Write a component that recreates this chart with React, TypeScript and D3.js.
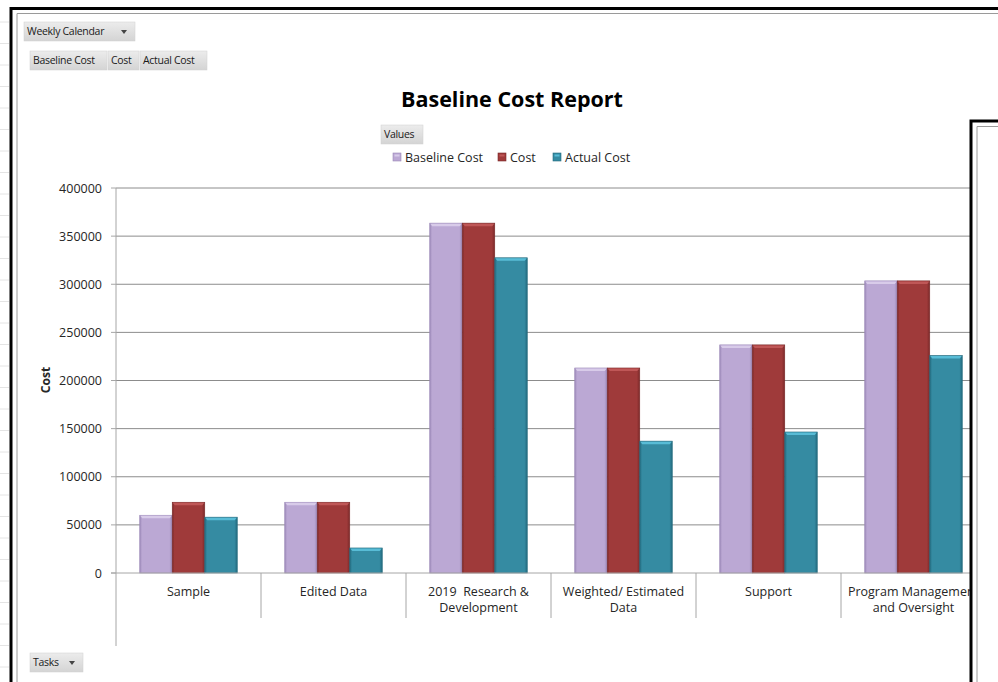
import * as d3 from 'd3'

const categories = ['Sample', 'Edited Data', '2019  Research & Development', 'Weighted/ Estimated Data', 'Support', 'Program Management and Oversight']
const categoryLines = [
  ['Sample'],
  ['Edited Data'],
  ['2019  Research &', 'Development'],
  ['Weighted/ Estimated', 'Data'],
  ['Support'],
  ['Program Management', 'and Oversight'],
]
const seriesNames = ['Baseline Cost', 'Cost', 'Actual Cost']
const baselineCost = [60000, 73500, 363500, 213000, 237000, 303500]
const cost = [73500, 73500, 363500, 213000, 237000, 303500]
const actualCost = [58000, 26000, 327500, 137000, 146500, 226000]
const yTicks = [0, 50000, 100000, 150000, 200000, 250000, 300000, 350000, 400000]

const W = 998
const H = 682
const PLOT = { left: 116, right: 986, top: 188, bottom: 573 }
const FONT = "'Open Sans', 'DejaVu Sans', sans-serif"
const TEXT = '#262626'
const GRID = '#8c8c8c'
const AXIS = '#a6a6a6'

const COLORS = [
  { main: '#bba8d4', light: '#d8cbe9', dark: '#9a87b6' },
  { main: '#9f3a3a', light: '#bf5757', dark: '#7a2929' },
  { main: '#358ba2', light: '#58bcd6', dark: '#236a7e' },
]

function Button({ x, y, w, label, arrow }: { x: number; y: number; w: number; label: string; arrow?: boolean }) {
  return (
    <g>
      <rect x={x} y={y} width={w} height={19} fill="url(#btn-grad)" stroke="#d0d0d0" strokeWidth={0.5} />
      <text x={x + 3} y={y + 13} fontSize={10.5} fontFamily={FONT} fill="#1a1a1a" letterSpacing={-0.3}>{label}</text>
      {arrow && <path d={`M${x + w - 14},${y + 8} l6,0 l-3,4 z`} fill="#444" />}
    </g>
  )
}

function rowY(i: number) {
  return 22 + i * 21.5
}

export default function App() {
  const x = d3.scaleBand<string>().domain(categories).range([PLOT.left, PLOT.right]).paddingInner(0).paddingOuter(0)
  const xs = d3.scaleBand<string>().domain(seriesNames).range([0, x.bandwidth()]).paddingInner(0).paddingOuter(0.73)
  const y = d3.scaleLinear().domain([0, 400000]).range([PLOT.bottom, PLOT.top])
  const values = [baselineCost, cost, actualCost]

  return (
    <svg width={W} height={H} style={{ position: 'fixed', left: 0, top: 0, background: '#fff' }}>
      <defs>
        <linearGradient id="btn-grad" x1="0" x2="0" y1="0" y2="1">
          <stop offset="0%" stopColor="#ececec" />
          <stop offset="100%" stopColor="#d4d4d4" />
        </linearGradient>
        {COLORS.map((c, i) => (
          <linearGradient key={i} id={`bar-grad-${i}`} x1="0" x2="1" y1="0" y2="0">
            <stop offset="0%" stopColor={c.dark} />
            <stop offset="7%" stopColor={c.main} />
            <stop offset="91%" stopColor={c.main} />
            <stop offset="100%" stopColor={c.dark} />
          </linearGradient>
        ))}
      </defs>

      {/* faint spreadsheet grid at far left */}
      {d3.range(0, 34).map((i) => (
        <line key={i} x1={0} x2={9} y1={rowY(i)} y2={rowY(i)} stroke="#e4e4e4" />
      ))}

      {/* outer frame */}
      <path d={`M11,${H + 5} L11,8.5 L${W + 5},8.5`} fill="none" stroke="#000" strokeWidth={3} />
      <path d={`M17,${H + 5} L17,13.5 L${W + 5},13.5`} fill="none" stroke="#9a9a9a" strokeWidth={1} />

      {/* field buttons */}
      <Button x={24} y={22} w={111} label="Weekly Calendar" arrow />
      <Button x={30} y={51} w={77} label="Baseline Cost" />
      <Button x={108} y={51} w={31} label="Cost" />
      <Button x={140} y={51} w={67} label="Actual Cost" />
      <Button x={30} y={653} w={53} label="Tasks" arrow />

      {/* title */}
      <text x={512} y={107} textAnchor="middle" fontSize={21.5} fontWeight="bold" fontFamily={FONT} fill="#000">
        Baseline Cost Report
      </text>
      <Button x={381} y={125} w={42} label="Values" />

      {/* legend */}
      {[
        { x: 393, tx: 405 },
        { x: 498, tx: 510 },
        { x: 553, tx: 565 },
      ].map((p, i) => (
        <g key={i}>
          <rect x={p.x} y={153} width={8} height={8} fill={COLORS[i].main} stroke={COLORS[i].dark} strokeWidth={0.6} />
          <rect x={p.x + 1.5} y={154.5} width={5} height={2} fill={COLORS[i].light} />
          <text x={p.tx} y={162} fontSize={12.5} fontFamily={FONT} fill={TEXT}>{seriesNames[i]}</text>
        </g>
      ))}

      {/* gridlines + y ticks */}
      {yTicks.map((t) => (
        <g key={t}>
          {t > 0 && <line x1={PLOT.left} x2={PLOT.right} y1={y(t)} y2={y(t)} stroke={GRID} strokeWidth={1} />}
          <line x1={PLOT.left - 5} x2={PLOT.left} y1={y(t)} y2={y(t)} stroke={AXIS} />
          <text x={PLOT.left - 14} y={y(t) + 4.5} textAnchor="end" fontSize={12.5} fontFamily={FONT} fill={TEXT}>
            {t}
          </text>
        </g>
      ))}

      <text transform={`translate(50,380) rotate(-90)`} textAnchor="middle" fontSize={12} fontWeight="bold" fontFamily={FONT} fill={TEXT}>
        Cost
      </text>

      {/* bars */}
      {categories.map((c, ci) =>
        seriesNames.map((s, si) => {
          const bx = (x(c) ?? 0) + (xs(s) ?? 0)
          const bw = xs.bandwidth()
          const by = y(values[si][ci])
          const bh = PLOT.bottom - by
          const col = COLORS[si]
          return (
            <g key={`${ci}-${si}`}>
              <rect x={bx} y={by} width={bw} height={bh} fill={`url(#bar-grad-${si})`} stroke={col.dark} strokeWidth={0.6} />
              <path d={`M${bx + 0.5},${by + 0.5} L${bx + bw - 0.5},${by + 0.5} L${bx + bw - 2.5},${by + 3} L${bx + 2.5},${by + 3} Z`} fill={col.light} />
            </g>
          )
        })
      )}

      {/* axes */}
      <line x1={PLOT.left} x2={PLOT.left} y1={PLOT.top} y2={646} stroke={AXIS} />
      <line x1={PLOT.left - 5} x2={PLOT.right} y1={PLOT.bottom} y2={PLOT.bottom} stroke={AXIS} />
      {categories.slice(1).map((c) => (
        <line key={c} x1={x(c)} x2={x(c)} y1={PLOT.bottom} y2={618} stroke={AXIS} />
      ))}

      {/* category labels */}
      {categories.map((c, ci) => (
        <text key={c} textAnchor="middle" fontSize={12.5} fontFamily={FONT} fill={TEXT} style={{ whiteSpace: 'pre' }}>
          {categoryLines[ci].map((ln, li) => (
            <tspan key={li} x={(x(c) ?? 0) + x.bandwidth() / 2} y={596 + li * 16}>{ln}</tspan>
          ))}
        </text>
      ))}

      {/* overlapping panel on the right */}
      <rect x={971} y={121} width={60} height={600} fill="#fff" stroke="#000" strokeWidth={3} />
      <path d={`M977,${H + 5} L977,126.5 L${W + 5},126.5`} fill="none" stroke="#9a9a9a" />
    </svg>
  )
}
